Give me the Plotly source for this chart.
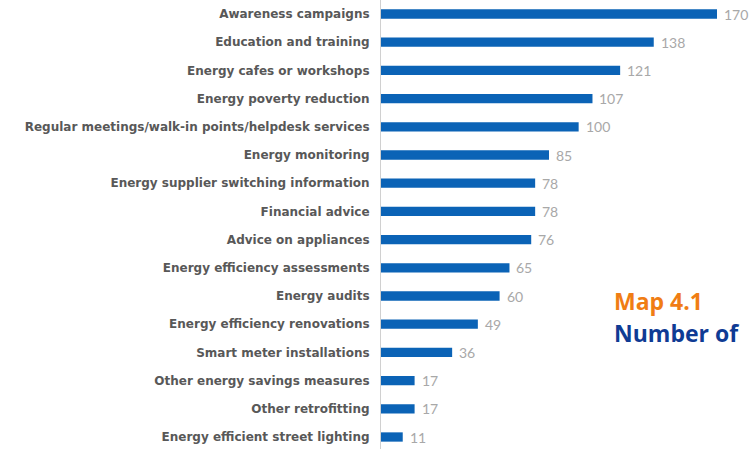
import plotly.graph_objects as go

categories = [
    "Awareness campaigns",
    "Education and training",
    "Energy cafes or workshops",
    "Energy poverty reduction",
    "Regular meetings/walk-in points/helpdesk services",
    "Energy monitoring",
    "Energy supplier switching information",
    "Financial advice",
    "Advice on appliances",
    "Energy efficiency assessments",
    "Energy audits",
    "Energy efficiency renovations",
    "Smart meter installations",
    "Other energy savings measures",
    "Other retrofitting",
    "Energy efficient street lighting",
]
values = [170, 138, 121, 107, 100, 85, 78, 78, 76, 65, 60, 49, 36, 17, 17, 11]

BAR = "#0B63B6"
W, H = 751, 449
L = 381
px_per_unit = (717 - 381) / 170
xmax = (W - L) / px_per_unit

fig = go.Figure()
fig.add_trace(go.Bar(
    x=values, y=categories, orientation="h",
    marker=dict(color=BAR, line=dict(width=0)),
    width=0.33, hoverinfo="skip",
))

for c, v in zip(categories, values):
    fig.add_annotation(
        x=v, y=c, xref="x", yref="y", text=str(v), showarrow=False,
        xanchor="left", yanchor="middle", xshift=5,
        font=dict(family="Lato, Open Sans, sans-serif", size=14, color="#A8A8A8"),
    )

fig.add_annotation(
    x=(612 - L) / (W - L), y=(449 - 301) / H, xref="paper", yref="paper",
    text="<b>Map 4.1</b>", showarrow=False, xanchor="left", yanchor="middle",
    font=dict(family="Open Sans, sans-serif", size=23, color="#F07D14"),
)
fig.add_annotation(
    x=(612 - L) / (W - L), y=(449 - 333) / H, xref="paper", yref="paper",
    text="<b>Number of</b>", showarrow=False, xanchor="left", yanchor="middle",
    font=dict(family="Open Sans, sans-serif", size=23, color="#0F3B94"),
)

n = len(categories)
step = (437 - 14) / (n - 1)
top = -14 / step
bottom = (n - 1) + (H - 437) / step

fig.update_layout(
    width=W, height=H,
    margin=dict(l=L, r=0, t=0, b=0, pad=0),
    paper_bgcolor="white", plot_bgcolor="white",
    showlegend=False,
    xaxis=dict(range=[0, xmax], visible=False, fixedrange=True),
    yaxis=dict(
        range=[bottom, top], showline=True, linecolor="#D0D0D0", linewidth=1,
        showgrid=False, zeroline=False, ticks="outside", ticklen=8, tickcolor="rgba(0,0,0,0)",
        tickfont=dict(family="DejaVu Sans, sans-serif", size=12, color="#585858"),
        categoryorder="array", categoryarray=categories, fixedrange=True,
    ),
)
fig.update_yaxes(tickfont_weight="bold")

fig.write_html(
    "out.html",
    config={"displayModeBar": False, "staticPlot": True},
    post_script="document.body.style.margin='0';document.body.style.overflow='hidden';",
)
